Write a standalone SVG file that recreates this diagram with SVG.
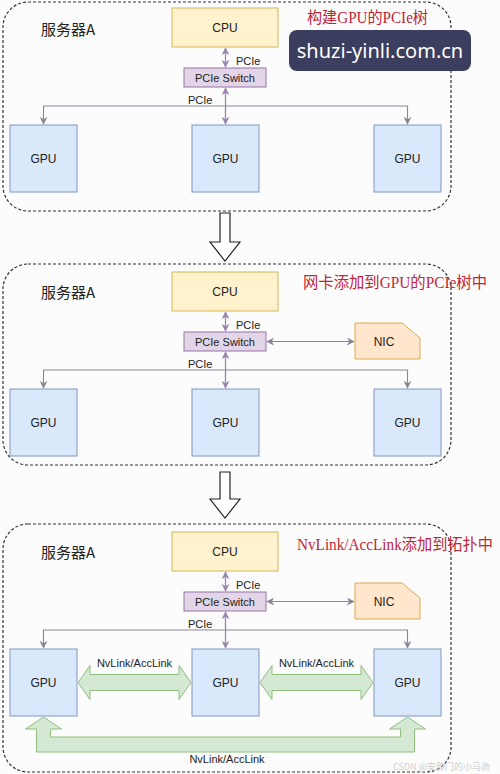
<svg xmlns="http://www.w3.org/2000/svg" width="500" height="774" viewBox="0 0 500 774">
<defs>
<marker id="ahp" viewBox="0 0 10 10" refX="9" refY="5" markerWidth="8" markerHeight="8" orient="auto-start-reverse" markerUnits="userSpaceOnUse">
<path d="M0,0 L10,5 L0,10 L3,5 Z" fill="#9b86b0"/>
</marker>
<marker id="ahg" viewBox="0 0 10 10" refX="9" refY="5" markerWidth="8" markerHeight="8" orient="auto-start-reverse" markerUnits="userSpaceOnUse">
<path d="M0,0 L10,5 L0,10 L3,5 Z" fill="#8c8598"/>
</marker>
</defs>
<style>
.panel{fill:none;stroke:#333;stroke-width:1.2;stroke-dasharray:3 2}
.cpu{fill:#fff2cc;stroke:#d6b656;stroke-width:1}
.sw{fill:#e1d5e7;stroke:#9673a6;stroke-width:1}
.gpu{fill:#dae8fc;stroke:#7f98bf;stroke-width:1}
.nic{fill:#ffe6cc;stroke:#dcaa50;stroke-width:1}
.green{fill:#d5e8d4;stroke:#8fbf7a;stroke-width:1}
.lbl{font-family:"Liberation Sans",Arial,sans-serif;font-size:12px;fill:#222;text-anchor:middle}
.sm{font-family:"Liberation Sans",Arial,sans-serif;font-size:11px;fill:#222}
.srv{font-family:"Noto Sans CJK SC",sans-serif;font-size:15px;fill:#222}
.title{font-family:"Liberation Serif","Noto Sans CJK SC",serif;font-size:16px;fill:#c0263a}
.vp{stroke:#9b86b0;stroke-width:1.3;fill:none;marker-start:url(#ahp);marker-end:url(#ahp)}
.hg{stroke:#8c8598;stroke-width:1.1;fill:none;marker-start:url(#ahg);marker-end:url(#ahg)}
.big{fill:#fff;stroke:#222;stroke-width:1.2}
</style>
<rect width="500" height="774" fill="#fcfcfc"/>

<!-- Panel 1 -->
<g id="panel1">
<rect class="panel" x="3" y="2" width="448" height="209" rx="25"/>
<text class="srv" x="41" y="35">服务器A</text>
<text class="title" x="307" y="23" textLength="121" lengthAdjust="spacingAndGlyphs">构建GPU的PCIe树</text>
<g id="p1-cpu"><rect class="cpu" x="172" y="8" width="106" height="39"/><text class="lbl" x="225" y="32">CPU</text></g>
<g id="p1-switch"><rect class="sw" x="184" y="68" width="82" height="19"/><text class="lbl" style="font-size:11px" x="225" y="81.5">PCIe Switch</text></g>
<g id="p1-gpu1"><rect class="gpu" x="10" y="125" width="67" height="67"/><text class="lbl" x="43.5" y="163">GPU</text></g>
<g id="p1-gpu2"><rect class="gpu" x="192" y="125" width="67" height="67"/><text class="lbl" x="225.5" y="163">GPU</text></g>
<g id="p1-gpu3"><rect class="gpu" x="374" y="125" width="67" height="67"/><text class="lbl" x="407.5" y="163">GPU</text></g>
<g id="p1-connectors">
<line class="vp" x1="225.5" y1="48" x2="225.5" y2="67"/>
<line class="vp" x1="225.5" y1="88" x2="225.5" y2="124"/>
<path class="hg" d="M43.5,124 V106 H407.5 V124"/>
<text class="sm" x="236" y="65">PCIe</text>
<text class="sm" x="188" y="104">PCIe</text>
</g>
</g>

<g id="watermark">
<rect x="289" y="30" width="182" height="41" rx="8" fill="#3b3e5e"/>
<text x="380" y="58" font-family="'Noto Sans',sans-serif" font-size="20" fill="#fff" text-anchor="middle">shuzi-yinli.com.cn</text>
</g>

<g id="down-arrow-1"><path class="big" d="M220,213 H230 V242 H240 L225,261 L210,242 H220 Z"/></g>

<!-- Panel 2 -->
<g id="panel2" transform="translate(0,264)">
<rect class="panel" x="3" y="0" width="448" height="201" rx="25"/>
<text class="srv" x="41" y="34">服务器A</text>
<text class="title" x="303" y="24" textLength="184" lengthAdjust="spacingAndGlyphs">网卡添加到GPU的PCIe树中</text>
<g id="p2-cpu"><rect class="cpu" x="172" y="8" width="106" height="39"/><text class="lbl" x="225" y="32">CPU</text></g>
<g id="p2-switch"><rect class="sw" x="184" y="68" width="82" height="19"/><text class="lbl" style="font-size:11px" x="225" y="81.5">PCIe Switch</text></g>
<g id="p2-nic"><path class="nic" d="M355,59 H402 L420,74 V95 H355 Z"/><text class="lbl" x="384" y="81.5">NIC</text></g>
<g id="p2-gpu1"><rect class="gpu" x="10" y="125" width="67" height="67"/><text class="lbl" x="43.5" y="163">GPU</text></g>
<g id="p2-gpu2"><rect class="gpu" x="192" y="125" width="67" height="67"/><text class="lbl" x="225.5" y="163">GPU</text></g>
<g id="p2-gpu3"><rect class="gpu" x="374" y="125" width="67" height="67"/><text class="lbl" x="407.5" y="163">GPU</text></g>
<g id="p2-connectors">
<line class="vp" x1="225.5" y1="48" x2="225.5" y2="67"/>
<line class="vp" x1="225.5" y1="88" x2="225.5" y2="124"/>
<path class="hg" d="M43.5,124 V106 H407.5 V124"/>
<line class="hg" x1="267" y1="77.5" x2="354" y2="77.5"/>
<text class="sm" x="236" y="65">PCIe</text>
<text class="sm" x="188" y="104">PCIe</text>
</g>
</g>

<g id="down-arrow-2"><path class="big" d="M220,472 H230 V499 H240 L225,518 L210,499 H220 Z"/></g>

<!-- Panel 3 -->
<g id="panel3" transform="translate(0,524)">
<rect class="panel" x="3" y="0" width="448" height="248" rx="25"/>
<text class="srv" x="41" y="34">服务器A</text>
<text class="title" x="297" y="26" textLength="196" lengthAdjust="spacingAndGlyphs">NvLink/AccLink添加到拓扑中</text>
<g id="p3-cpu"><rect class="cpu" x="172" y="8" width="106" height="39"/><text class="lbl" x="225" y="32">CPU</text></g>
<g id="p3-switch"><rect class="sw" x="184" y="68" width="82" height="19"/><text class="lbl" style="font-size:11px" x="225" y="81.5">PCIe Switch</text></g>
<g id="p3-nic"><path class="nic" d="M355,59 H402 L420,74 V95 H355 Z"/><text class="lbl" x="384" y="81.5">NIC</text></g>
<g id="p3-gpu1"><rect class="gpu" x="10" y="125" width="67" height="67"/><text class="lbl" x="43.5" y="163">GPU</text></g>
<g id="p3-gpu2"><rect class="gpu" x="192" y="125" width="67" height="67"/><text class="lbl" x="225.5" y="163">GPU</text></g>
<g id="p3-gpu3"><rect class="gpu" x="374" y="125" width="67" height="67"/><text class="lbl" x="407.5" y="163">GPU</text></g>
<g id="p3-connectors">
<line class="vp" x1="225.5" y1="48" x2="225.5" y2="67"/>
<line class="vp" x1="225.5" y1="88" x2="225.5" y2="124"/>
<path class="hg" d="M43.5,124 V106 H407.5 V124"/>
<line class="hg" x1="267" y1="77.5" x2="354" y2="77.5"/>
<text class="sm" x="236" y="65">PCIe</text>
<text class="sm" x="188" y="104">PCIe</text>
<path class="green" d="M78,158.5 L90,141.5 L90,150.5 L179,150.5 L179,141.5 L191,158.5 L179,175.5 L179,166.5 L90,166.5 L90,175.5 Z"/>
<path class="green" d="M260,158.5 L272,141.5 L272,150.5 L361,150.5 L361,141.5 L373,158.5 L361,175.5 L361,166.5 L272,166.5 L272,175.5 Z"/>
<path class="green" d="M43.5,193 L61.5,205 L50.5,205 L50.5,213 L400.5,213 L400.5,205 L389.5,205 L407.5,193 L425.5,205 L414.5,205 L414.5,228 L36.5,228 L36.5,205 L25.5,205 Z"/>
<text class="sm" x="134.5" y="143" text-anchor="middle">NvLink/AccLink</text>
<text class="sm" x="316.5" y="143" text-anchor="middle">NvLink/AccLink</text>
<text class="sm" x="227" y="239" text-anchor="middle">NvLink/AccLink</text>
</g>
</g>

<text x="393" y="770" font-family="'Noto Sans CJK SC',sans-serif" font-size="9" fill="#cfcfcf">CSDN @安静门的小马驹</text>
</svg>
